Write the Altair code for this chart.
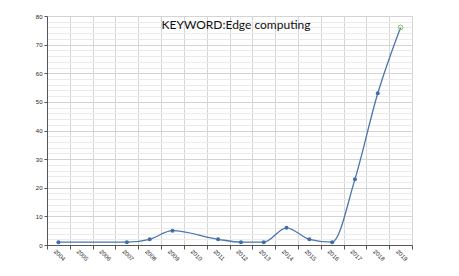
import altair as alt
import pandas as pd

all_years = [str(y) for y in range(2004, 2020)]
years = ["2004", "2007", "2008", "2009", "2011", "2012", "2013", "2014", "2015", "2016", "2017", "2018", "2019"]
counts = [1, 1, 2, 5, 2, 1, 1, 6, 2, 1, 23, 53, 76]
kinds = ["actual"] * 12 + ["forecast"]
major_ticks = list(range(0, 81, 10))
minor_ticks = list(range(0, 81, 2))

df = pd.DataFrame({"year": years, "count": counts, "kind": kinds})

x_scale = alt.Scale(domain=all_years, paddingInner=0, paddingOuter=0)
y_scale = alt.Scale(domain=[0, 80], nice=False)

x_enc = alt.X("year:N", scale=x_scale,
              axis=alt.Axis(title=None, labelAngle=45, labelAlign="left", labelBaseline="middle",
                            labelFontSize=6, labelColor="#222", tickBand="extent", grid=True,
                            gridColor="#d4d4d4", domainColor="#555", tickColor="#555", tickSize=4,
                            labelPadding=1, labelOffset=-4, labelOverlap=False))

minor = alt.Chart(df).mark_line(opacity=0).encode(
    x=alt.X("year:N", scale=x_scale),
    y=alt.Y("count:Q", scale=y_scale,
            axis=alt.Axis(title=None, orient="right", values=minor_ticks, labels=False,
                          ticks=False, domain=False, grid=True, gridColor="#ebebeb")),
)

line = alt.Chart(df).mark_line(color="#4a76ad", strokeWidth=1.3, interpolate="monotone").encode(
    x=x_enc,
    y=alt.Y("count:Q", scale=y_scale,
            axis=alt.Axis(title=None, orient="left", values=major_ticks, labelFontSize=6,
                          labelColor="#222", labelOverlap=False, labelFlush=False, grid=True,
                          gridColor="#d4d4d4", domainColor="#555", tickColor="#555",
                          tickSize=3, labelPadding=2)),
)

pts = alt.Chart(df).transform_filter(alt.datum.kind == "actual").mark_point(
    filled=True, color="#3f6ea8", size=16, opacity=1).encode(
    x=alt.X("year:N", scale=x_scale),
    y=alt.Y("count:Q", scale=y_scale, axis=None),
)

last = alt.Chart(df).transform_filter(alt.datum.kind == "forecast").mark_point(
    filled=False, color="#8cc152", size=22, strokeWidth=1, opacity=1).encode(
    x=alt.X("year:N", scale=x_scale),
    y=alt.Y("count:Q", scale=y_scale, axis=None),
)

title = alt.Chart(pd.DataFrame({"t": ["KEYWORD:Edge computing"]})).mark_text(
    font="Lato", fontSize=12, color="#111", align="center", baseline="middle").encode(
    text="t:N", x=alt.value(189), y=alt.value(9))

chart = alt.layer(minor, line, pts, last, title).resolve_axis(y="independent").properties(
    width=365, height=229,
    autosize=alt.AutoSizeParams(type="none"),
    padding={"left": 39, "top": 8, "right": 30, "bottom": 20},
).configure_view(stroke=None).configure(background="white")

chart.save("out.html", embed_options={"renderer": "svg", "actions": False})
